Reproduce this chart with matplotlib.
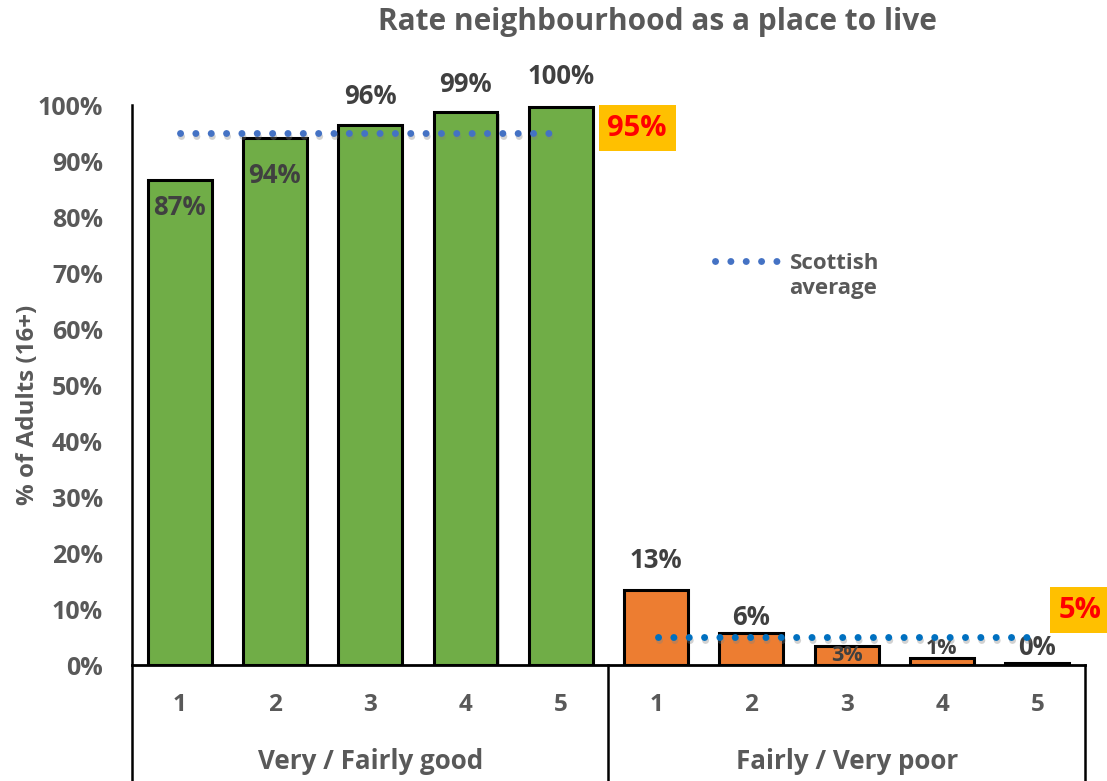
import matplotlib
matplotlib.use("Agg")
import matplotlib.pyplot as plt
import matplotlib.patheffects as pe
from matplotlib.transforms import blended_transform_factory

# ---- data -------------------------------------------------------------
ratings = ["1", "2", "3", "4", "5"]
groups = ["Very / Fairly good", "Fairly / Very poor"]
good_pct = [86.6, 94.2, 96.4, 98.7, 99.6]
poor_pct = [13.4, 5.8, 3.4, 1.3, 0.4]
scot_avg = [95, 5]
y_ticks = [0, 10, 20, 30, 40, 50, 60, 70, 80, 90, 100]

# ---- styling -----------------------------------------------------------
FONT = "Open Sans"
GREEN = "#70AD47"
ORANGE = "#ED7D31"
GREY = "#595959"
DARK = "#404040"

plt.rcParams["font.family"] = [FONT, "DejaVu Sans"]
plt.rcParams["font.weight"] = "bold"

fig = plt.figure(figsize=(11.07, 7.81), dpi=100)
ax = fig.add_axes([0.1192, 0.1485, 0.8609, 0.7170])

values = good_pct + poor_pct
colors = [GREEN] * len(good_pct) + [ORANGE] * len(poor_pct)
xpos = list(range(len(values)))

shadow = [pe.SimplePatchShadow(offset=(1.5, -1.5), shadow_rgbFace="#808080", alpha=0.35), pe.Normal()]
bars = ax.bar(xpos, values, width=0.67, color=colors, edgecolor="black", linewidth=2.2, zorder=3)
for b in bars:
    b.set_path_effects(shadow)

ax.set_xlim(-0.5, len(values) - 0.5)
ax.set_ylim(0, 100)

# value labels (offsets in points from the bar top)
offsets = [-20, -27, 21, 20, 22, 21, 11, -7, 7, 11]
sizes = [18.5, 18.5, 18.5, 18.5, 18.5, 18.5, 18.5, 15.5, 15.5, 18.5]
for x, v, dy, fs in zip(xpos, values, offsets, sizes):
    ax.annotate(f"{v:.0f}%", (x, v), xytext=(0, dy), textcoords="offset points",
                ha="center", va="center", fontsize=fs, fontweight="bold", color=DARK, zorder=5)

# Scottish average lines
dot_style = dict(lw=5, dash_capstyle="round", zorder=6,
                 path_effects=[pe.SimpleLineShadow(offset=(1, -2), shadow_color="#808080", alpha=0.35), pe.Normal()])
l1, = ax.plot([0, 3.98], [scot_avg[0]] * 2, color="#4472C4", **dot_style)
l2, = ax.plot([5.02, 8.93], [scot_avg[1]] * 2, color="#0070C0", **dot_style)
for ln in (l1, l2):
    ln.set_dashes((0.01, 2.2))

box = dict(boxstyle="square,pad=0.3", facecolor="#FFC000", edgecolor="none")
ax.text(4.80, 95.9, f"{scot_avg[0]}%", ha="center", va="center", fontsize=21,
        fontweight="bold", color="#FF0000", bbox=box, zorder=7, clip_on=False)
ax.text(9.45, 9.8, f"{scot_avg[1]}%", ha="center", va="center", fontsize=21,
        fontweight="bold", color="#FF0000", bbox=box, zorder=7, clip_on=False)

# legend entry
leg_line, = ax.plot([0.612, 0.680], [0.721, 0.721], transform=ax.transAxes, color="#4472C4",
                    lw=5, dash_capstyle="round", clip_on=False)
leg_line.set_dashes((0.01, 2.2))
ax.text(0.690, 0.694, "Scottish\naverage", transform=ax.transAxes, ha="left", va="center",
        fontsize=16, fontweight="bold", color=GREY, linespacing=1.25)

# axes, ticks
for s in ax.spines.values():
    s.set_visible(False)
ax.set_yticks(y_ticks)
ax.set_yticklabels([f"{t}%" for t in y_ticks])
ax.tick_params(axis="y", length=0, pad=21, labelsize=18, labelcolor=GREY)
ax.set_xticks(xpos)
ax.set_xticklabels(ratings * 2)
ax.tick_params(axis="x", length=0, pad=20, labelsize=17.5, labelcolor=GREY)
for lab in ax.get_xticklabels() + ax.get_yticklabels():
    lab.set_fontweight("bold")

# group boxes below the axis
trans = blended_transform_factory(ax.transData, ax.transAxes)
bottom = -0.21
ax.plot([-0.5, len(values) - 0.5], [0, 0], transform=trans, color="black", lw=2, clip_on=False, zorder=8)
for xb, top in [(-0.5, 1.0), (4.5, 0.0), (len(values) - 0.5, 0.0)]:
    ax.plot([xb, xb], [bottom, top], transform=trans, color="black", lw=1.8, clip_on=False, zorder=8)
for gi, g in enumerate(groups):
    ax.text(gi * 5 + 2, -0.173, g, transform=trans, ha="center", va="center",
            fontsize=18.7, fontweight="bold", color=GREY)

fig.text(0.0253, 0.4814, "% of Adults (16+)", rotation=90, ha="center", va="center",
         fontsize=17.4, fontweight="bold", color=GREY)
fig.text(0.5935, 0.972, "Rate neighbourhood as a place to live", ha="center", va="center",
         fontsize=21.5, fontweight="bold", color=GREY)

fig.savefig("out.png", dpi=100)
